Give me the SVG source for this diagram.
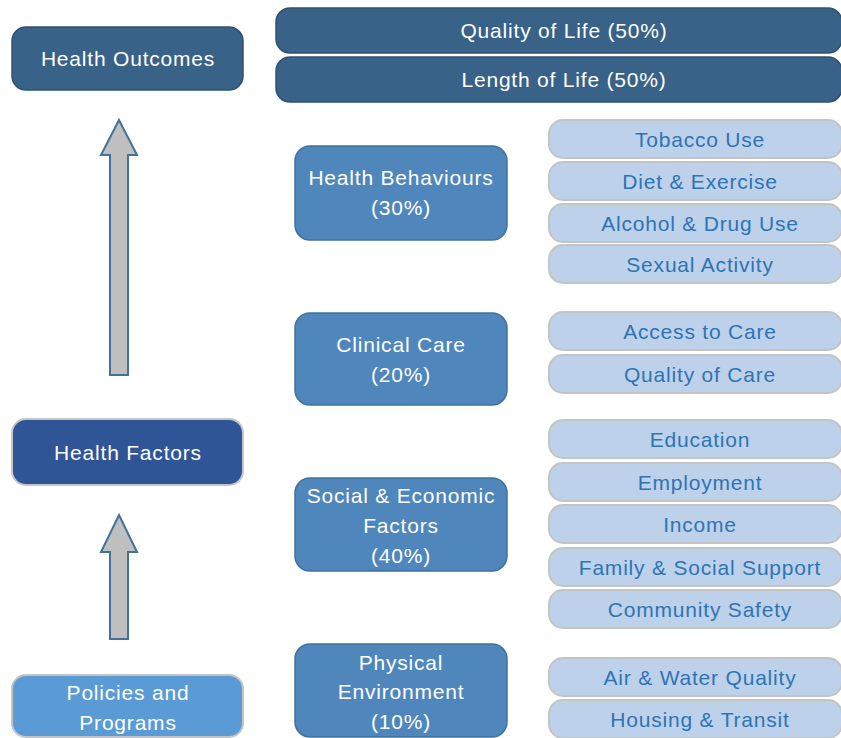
<svg xmlns="http://www.w3.org/2000/svg" width="841" height="738" viewBox="0 0 841 738">
  <style>
    text { font-family: "Liberation Sans", Arial, sans-serif; font-size: 21px; letter-spacing: 0.8px; text-anchor: middle; }
    .outcome rect { fill: #386288; stroke: #2e5270; stroke-width: 1.5; }
    .outcome text { fill: #ffffff; }
    .factor rect { fill: #4f87bd; stroke: #41719c; stroke-width: 1.5; }
    .factor text { fill: #ffffff; }
    .pill rect { fill: #bdd1ea; stroke: #c4c4c4; stroke-width: 2; }
    .pill text { fill: #2e74b5; }
    .hf rect { fill: #2f5597; stroke: #c4c4c4; stroke-width: 2; }
    .pp rect { fill: #5b9bd5; stroke: #c4c4c4; stroke-width: 2; }
    .hf text, .pp text { fill: #ffffff; }
    .arrow { fill: #bfbfbf; stroke: #41719c; stroke-width: 2; stroke-linejoin: miter; }
  </style>

  <!-- block arrows between the left-hand levels -->
  <g id="connectors">
    <path class="arrow" d="M119,120 L137,155 L128,155 L128,375 L110,375 L110,155 L101,155 Z"/>
    <path class="arrow" d="M119,515 L137,552 L128,552 L128,639 L110,639 L110,552 L101,552 Z"/>
  </g>

  <!-- left column -->
  <g id="health-outcomes" class="outcome">
    <rect x="12" y="27" width="231" height="63" rx="14"/>
    <text x="128" y="66">Health Outcomes</text>
  </g>
  <g id="health-factors" class="hf">
    <rect x="12" y="419" width="231" height="66" rx="14"/>
    <text x="128" y="460">Health Factors</text>
  </g>
  <g id="policies-programs" class="pp">
    <rect x="12" y="675" width="231" height="62" rx="14"/>
    <text x="128" y="700">Policies and</text>
    <text x="128" y="730">Programs</text>
  </g>

  <!-- outcome bars -->
  <g id="quality-of-life" class="outcome">
    <rect x="276" y="8" width="566" height="45" rx="14"/>
    <text x="564" y="38">Quality of Life (50%)</text>
  </g>
  <g id="length-of-life" class="outcome">
    <rect x="276" y="57" width="566" height="45" rx="14"/>
    <text x="564" y="87">Length of Life (50%)</text>
  </g>

  <!-- factor categories -->
  <g id="health-behaviours" class="factor">
    <rect x="295" y="146" width="212" height="94" rx="15"/>
    <text x="401" y="185">Health Behaviours</text>
    <text x="401" y="215">(30%)</text>
  </g>
  <g id="clinical-care" class="factor">
    <rect x="295" y="313" width="212" height="92" rx="15"/>
    <text x="401" y="352">Clinical Care</text>
    <text x="401" y="382">(20%)</text>
  </g>
  <g id="social-economic" class="factor">
    <rect x="295" y="478" width="212" height="93" rx="15"/>
    <text x="401" y="503">Social &amp; Economic</text>
    <text x="401" y="533">Factors</text>
    <text x="401" y="563">(40%)</text>
  </g>
  <g id="physical-environment" class="factor">
    <rect x="295" y="644" width="212" height="93" rx="15"/>
    <text x="401" y="670">Physical</text>
    <text x="401" y="699">Environment</text>
    <text x="401" y="729">(10%)</text>
  </g>

  <!-- individual factors -->
  <g id="tobacco-use" class="pill">
    <rect x="549" y="120" width="293" height="38" rx="14"/>
    <text x="700" y="147">Tobacco Use</text>
  </g>
  <g id="diet-exercise" class="pill">
    <rect x="549" y="162" width="293" height="38" rx="14"/>
    <text x="700" y="189">Diet &amp; Exercise</text>
  </g>
  <g id="alcohol-drug-use" class="pill">
    <rect x="549" y="204" width="293" height="38" rx="14"/>
    <text x="700" y="231">Alcohol &amp; Drug Use</text>
  </g>
  <g id="sexual-activity" class="pill">
    <rect x="549" y="245" width="293" height="38" rx="14"/>
    <text x="700" y="272">Sexual Activity</text>
  </g>
  <g id="access-to-care" class="pill">
    <rect x="549" y="312" width="293" height="38" rx="14"/>
    <text x="700" y="339">Access to Care</text>
  </g>
  <g id="quality-of-care" class="pill">
    <rect x="549" y="355" width="293" height="38" rx="14"/>
    <text x="700" y="382">Quality of Care</text>
  </g>
  <g id="education" class="pill">
    <rect x="549" y="420" width="293" height="38" rx="14"/>
    <text x="700" y="447">Education</text>
  </g>
  <g id="employment" class="pill">
    <rect x="549" y="463" width="293" height="38" rx="14"/>
    <text x="700" y="490">Employment</text>
  </g>
  <g id="income" class="pill">
    <rect x="549" y="505" width="293" height="38" rx="14"/>
    <text x="700" y="532">Income</text>
  </g>
  <g id="family-social-support" class="pill">
    <rect x="549" y="548" width="293" height="38" rx="14"/>
    <text x="700" y="575">Family &amp; Social Support</text>
  </g>
  <g id="community-safety" class="pill">
    <rect x="549" y="590" width="293" height="38" rx="14"/>
    <text x="700" y="617">Community Safety</text>
  </g>
  <g id="air-water-quality" class="pill">
    <rect x="549" y="658" width="293" height="38" rx="14"/>
    <text x="700" y="685">Air &amp; Water Quality</text>
  </g>
  <g id="housing-transit" class="pill">
    <rect x="549" y="700" width="293" height="38" rx="14"/>
    <text x="700" y="727">Housing &amp; Transit</text>
  </g>
</svg>
